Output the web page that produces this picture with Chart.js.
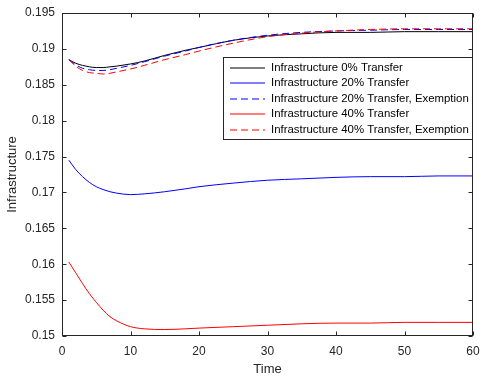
<!DOCTYPE html>
<html><head><meta charset="utf-8">
<script src="https://cdn.jsdelivr.net/npm/chart.js@4/dist/chart.umd.min.js"></script>
<style>html,body{margin:0;padding:0;background:#fff}</style>
</head><body>
<canvas id="c" width="482" height="379"></canvas>
<script>
const time = [1,2,3,4,5,6,7,8,10,12,15,18,20,25,30,35,40,45,50,55,60];
const infra0 = [0.1885,0.1880,0.1877,0.1875,0.1874,0.1874,0.1875,0.1876,0.1879,0.1883,0.1891,0.1898,0.1902,0.1912,0.1918,0.1921,0.1923,0.1923,0.1924,0.1924,0.1924];
const infra20 = [0.1745,0.1732,0.1722,0.1714,0.1708,0.1704,0.1701,0.1699,0.1697,0.1698,0.1701,0.1705,0.1708,0.1713,0.1717,0.1719,0.1721,0.1722,0.1722,0.1723,0.1723];
const infra20Ex = [0.1885,0.1878,0.1873,0.1871,0.1870,0.1870,0.1871,0.1873,0.1877,0.1882,0.1890,0.1897,0.1902,0.1912,0.1919,0.1923,0.1925,0.1926,0.1927,0.1927,0.1927];
const infra40 = [0.1603,0.1588,0.1573,0.1559,0.1547,0.1536,0.1527,0.1521,0.1513,0.1510,0.1509,0.1510,0.1511,0.1513,0.1515,0.1517,0.1518,0.1518,0.1519,0.1519,0.1519];
const infra40Ex = [0.1885,0.1876,0.1870,0.1867,0.1866,0.1865,0.1866,0.1868,0.1872,0.1877,0.1885,0.1892,0.1897,0.1908,0.1917,0.1922,0.1925,0.1927,0.1928,0.1928,0.1928];
const seriesLabels = ['Infrastructure 0% Transfer','Infrastructure 20% Transfer','Infrastructure 20% Transfer, Exemption','Infrastructure 40% Transfer','Infrastructure 40% Transfer, Exemption'];
const xTicks = [0,10,20,30,40,50,60];
const yTicks = [0.15,0.155,0.16,0.165,0.17,0.175,0.18,0.185,0.19,0.195];

const FONT = '"Liberation Sans", Arial, Helvetica, sans-serif';
const AX = '#262626';
const DASH = [7,4];
const seriesColors = ['#000000','#0000ff','#0000ff','#ff0000','#ff0000'];
const seriesDash = [[],[],DASH,[],DASH];
const pts = arr => time.map((t,i)=>({x:t,y:arr[i]}));
const mk = (i, arr) => ({label: seriesLabels[i], data: pts(arr), borderColor: seriesColors[i], backgroundColor: seriesColors[i],
  borderWidth: 1, borderDash: seriesDash[i], pointRadius: 0, cubicInterpolationMode: 'monotone', fill: false, order: 5 - i});

const boxPlugin = {
  id: 'box',
  afterDatasetsDraw(chart) {
    const {ctx, chartArea: a, scales: {x, y}} = chart;
    ctx.save();
    ctx.strokeStyle = AX; ctx.lineWidth = 1;
    const L = Math.round(a.left)+0.5, R = Math.round(a.right)-0.5, T = Math.round(a.top)+0.5, B = Math.round(a.bottom)-0.5;
    ctx.strokeRect(L, T, R-L, B-T);
    ctx.beginPath();
    const tl = 4;
    xTicks.forEach(v => { const px = Math.round(x.getPixelForValue(v))+0.5;
      ctx.moveTo(px, B); ctx.lineTo(px, B-tl); ctx.moveTo(px, T); ctx.lineTo(px, T+tl); });
    yTicks.forEach(v => { const py = Math.round(y.getPixelForValue(v))+0.5;
      ctx.moveTo(L, py); ctx.lineTo(L+tl, py); ctx.moveTo(R, py); ctx.lineTo(R-tl, py); });
    ctx.stroke();
    ctx.restore();
  },
  afterDraw(chart) {
    const ctx = chart.ctx;
    const bx = 223.5, by = 57.5, bw = 249, bh = 82, rowH = 15.6, firstY = 67.5;
    ctx.save();
    ctx.fillStyle = '#fff'; ctx.fillRect(bx, by, bw, bh);
    ctx.strokeStyle = AX; ctx.lineWidth = 1; ctx.strokeRect(bx, by, bw, bh);
    ctx.font = '11.4px ' + FONT; ctx.textBaseline = 'middle'; ctx.textAlign = 'left';
    seriesLabels.forEach((lab, i) => {
      const yc = firstY + i*rowH;
      const yy = Math.round(yc);
      ctx.strokeStyle = seriesColors[i]; ctx.lineWidth = 1.2; ctx.setLineDash(seriesDash[i]);
      ctx.beginPath(); ctx.moveTo(230, yy); ctx.lineTo(265, yy); ctx.stroke();
      ctx.setLineDash([]);
      ctx.fillStyle = '#000'; ctx.fillText(lab, 271, yc);
    });
    ctx.restore();
  }
};

new Chart(document.getElementById('c'), {
  type: 'line',
  data: { datasets: [
    mk(0, infra0), mk(1, infra20), mk(2, infra20Ex), mk(3, infra40), mk(4, infra40Ex)
  ]},
  options: {
    responsive: false, devicePixelRatio: 1, animation: false,
    layout: { padding: { left: 0, right: 9, top: 13, bottom: 0 } },
    plugins: { legend: { display: false }, tooltip: { enabled: false } },
    scales: {
      x: { type: 'linear', min: 0, max: 60,
        afterFit: s => { s.height = 43; s.paddingRight = 0; s.paddingLeft = 0; },
        afterBuildTicks: s => { s.ticks = xTicks.map(v => ({value: v})); },
        grid: { display: false, drawTicks: false }, border: { display: false },
        ticks: { color: AX, font: { family: FONT, size: 12 }, padding: 8, maxRotation: 0, callback: v => String(v) },
        title: { display: true, text: 'Time', color: AX, font: { family: FONT, size: 13 }, padding: { top: 0, bottom: 2 } } },
      y: { type: 'linear', min: 0.15, max: 0.195,
        afterFit: s => { s.width = 62; s.paddingTop = 0; s.paddingBottom = 0; },
        afterBuildTicks: s => { s.ticks = yTicks.map(v => ({value: v})); },
        grid: { display: false, drawTicks: false }, border: { display: false },
        ticks: { color: AX, font: { family: FONT, size: 12 }, padding: 7, callback: v => String(Number(v.toFixed(3))) },
        title: { display: true, text: 'Infrastructure', color: AX, font: { family: FONT, size: 13 }, padding: { top: 5, bottom: 0 } } }
    }
  },
  plugins: [boxPlugin]
});
</script>
</body></html>
